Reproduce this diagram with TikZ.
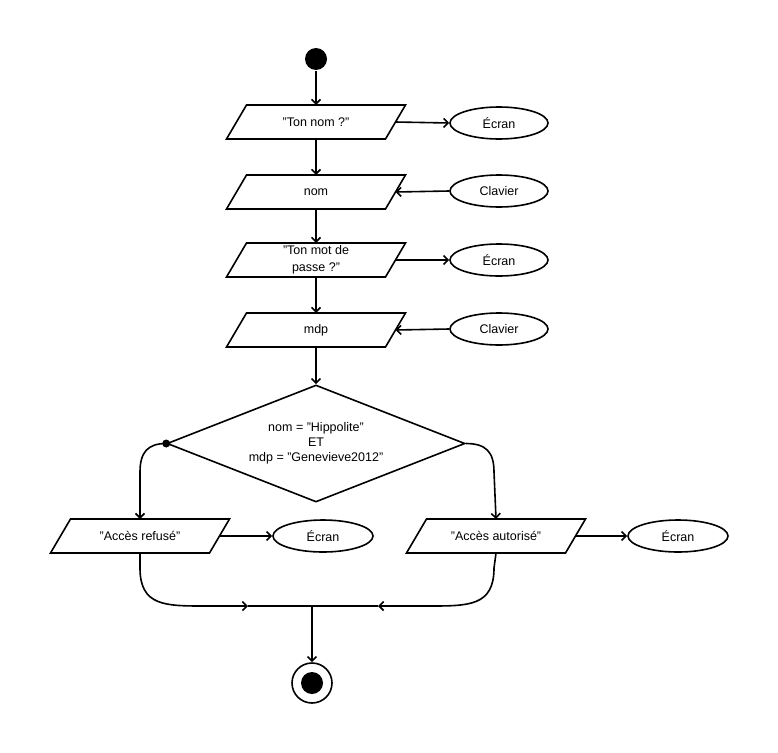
\documentclass[tikz,border=0pt]{standalone}
\usepackage{fontspec}
\setmainfont{Liberation Sans}
\usetikzlibrary{shapes.geometric,arrows.meta}
\newcommand{\ioshape}[1]{%
  \draw ([xshift=-10pt]#1.south west) -- ([xshift=-10pt]#1.south east)
    -- ([xshift=10pt]#1.north east) -- ([xshift=10pt]#1.north west) -- cycle;}
\begin{document}
\begin{tikzpicture}[x=1pt,y=-1pt,
  line width=1.6pt,
  txt/.style={font=\fontsize{12.5}{15}\selectfont},
  io/.style={rectangle, minimum width=159pt, minimum height=34pt,
    inner sep=0pt, outer sep=0pt, align=center, txt},
  dev/.style={ellipse, draw, minimum width=98pt, minimum height=32pt, inner sep=0pt, txt},
  arr/.style={-{Straight Barb[length=4.5pt,width=9pt]}}
]
\useasboundingbox (0,0) rectangle (778,752);

\node[circle, fill=black, minimum size=22pt, inner sep=0pt] (start) at (316,59) {};
\node[io] (p1) at (316,122) {"Ton nom ?"};
\node[dev] (e1) at (499,123) {Écran};
\node[io] (p2) at (316,192) {nom};
\node[dev] (c1) at (499,191) {Clavier};
\node[io, font=\fontsize{12.5}{17.5}\selectfont] (p3) at (316,260) {"Ton mot de\\passe ?"};
\node[dev] (e2) at (499,260) {Écran};
\node[io] (p4) at (316,330) {mdp};
\node[dev] (c2) at (499,329) {Clavier};
\node[diamond, draw, aspect=2.55, minimum width=298pt, minimum height=117pt,
  inner sep=0pt, align=center, txt] (dec) at (316,443.5)
  {nom = "Hippolite"\\ET\\mdp = "Genevieve2012"};
\node[circle, fill=black, minimum size=8pt, inner sep=0pt] (dot) at (dec.west) {};
\node[io] (ref) at (140,536) {"Accès refusé"};
\node[dev, minimum width=100pt] (e3) at (323,536) {Écran};
\node[io] (aut) at (496,536) {"Accès autorisé"};
\node[dev, minimum width=100pt] (e4) at (678,536) {Écran};
\node[circle, draw, minimum size=40pt, inner sep=0pt] (fin) at (312,683) {};
\node[circle, fill=black, minimum size=22pt, inner sep=0pt] (fininner) at (fin.center) {};

\ioshape{p1}
\ioshape{p2}
\ioshape{p3}
\ioshape{p4}
\ioshape{ref}
\ioshape{aut}

\coordinate (jl) at (248,606);
\coordinate (jr) at (378,606);
\coordinate (jm) at (312,606);

\draw[arr] (start) -- (p1);
\draw[arr] (p1.east) -- (e1.west);
\draw[arr] (p1) -- (p2);
\draw[arr] (c1.west) -- (p2.east);
\draw[arr] (p2) -- (p3);
\draw[arr] (p3.east) -- (e2.west);
\draw[arr] (p3) -- (p4);
\draw[arr] (c2.west) -- (p4.east);
\draw[arr] (p4) -- (dec.north);
\draw[arr] (dot.center) .. controls (148,443.5) and (140,452) .. (140,472) -- (ref.north);
\draw[arr] (dec.east) .. controls (486,443.5) and (494,452) .. (494,472) -- (aut.north);
\draw[arr] (ref.east) -- (e3.west);
\draw[arr] (aut.east) -- (e4.west);
\draw[arr] (ref.south) -- (140,568) .. controls (140,606) and (165,606) .. (205,606) -- (jl);
\draw[arr] (aut.south) -- (494,568) .. controls (494,606) and (469,606) .. (429,606) -- (jr);
\draw (jl) -- (jr);
\draw[arr] (jm) -- (fin.north);
\end{tikzpicture}
\end{document}
